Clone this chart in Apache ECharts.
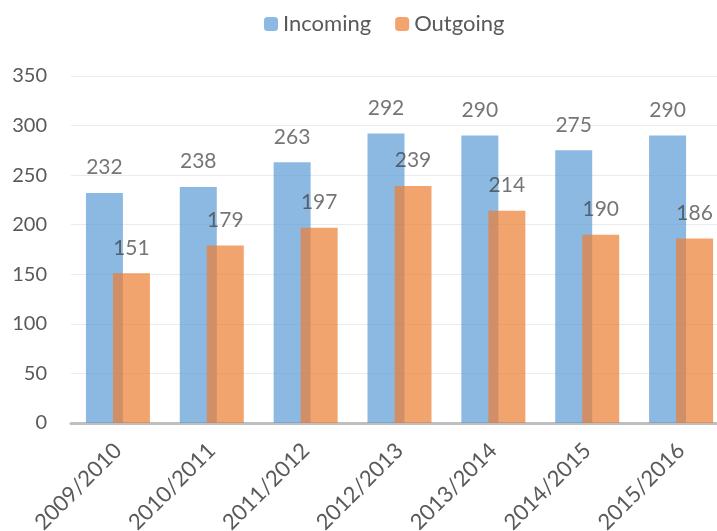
<!DOCTYPE html>
<html>
<head>
<meta charset="utf-8">
<script src="https://cdn.jsdelivr.net/npm/echarts@6/dist/echarts.min.js"></script>
<style>html,body{margin:0;padding:0;background:#fff}#c{width:717px;height:531px}</style>
</head>
<body>
<div id="c"></div>
<script>
var categories = ['2009/2010','2010/2011','2011/2012','2012/2013','2013/2014','2014/2015','2015/2016'];
var incoming = [232, 238, 263, 292, 290, 275, 290];
var outgoing = [151, 179, 197, 239, 214, 190, 186];
var yTicks = {min: 0, max: 350, interval: 50};

var font = 'Lato, "Open Sans", sans-serif';
var chart = echarts.init(document.getElementById('c'));
chart.setOption({
  animation: false,
  textStyle: {fontFamily: font},
  legend: {
    top: 8, left: 259,
    itemWidth: 14, itemHeight: 14, itemGap: 24,
    textStyle: {fontSize: 22, color: '#595959', fontFamily: font},
    data: ['Incoming', 'Outgoing']
  },
  grid: {left: 71, width: 657, top: 76, height: 347, containLabel: false, outerBoundsMode: 'none'},
  xAxis: {
    type: 'category', data: categories,
    axisLine: {lineStyle: {color: '#BFBFBF', width: 3}},
    axisTick: {show: false},
    axisLabel: {rotate: 45, fontSize: 22, color: '#595959', margin: 24, fontFamily: font}
  },
  yAxis: {
    type: 'value', min: yTicks.min, max: yTicks.max, interval: yTicks.interval,
    axisLine: {show: false}, axisTick: {show: false},
    axisLabel: {fontSize: 20, color: '#595959', margin: 24, fontFamily: font},
    splitLine: {lineStyle: {color: '#EBEBEB', width: 1}}
  },
  series: [
    {
      name: 'Incoming', type: 'bar', data: incoming,
      barWidth: 37, barGap: '-27%',
      itemStyle: {color: '#5B9BD5', opacity: 0.7},
      label: {show: true, position: 'top', distance: 15, fontSize: 21, color: '#3A3A3A', fontFamily: font}
    },
    {
      name: 'Outgoing', type: 'bar', data: outgoing,
      barWidth: 37,
      itemStyle: {color: '#ED7D31', opacity: 0.7},
      label: {show: true, position: 'top', distance: 15, fontSize: 21, color: '#3A3A3A', fontFamily: font}
    }
  ]
});
</script>
</body>
</html>
